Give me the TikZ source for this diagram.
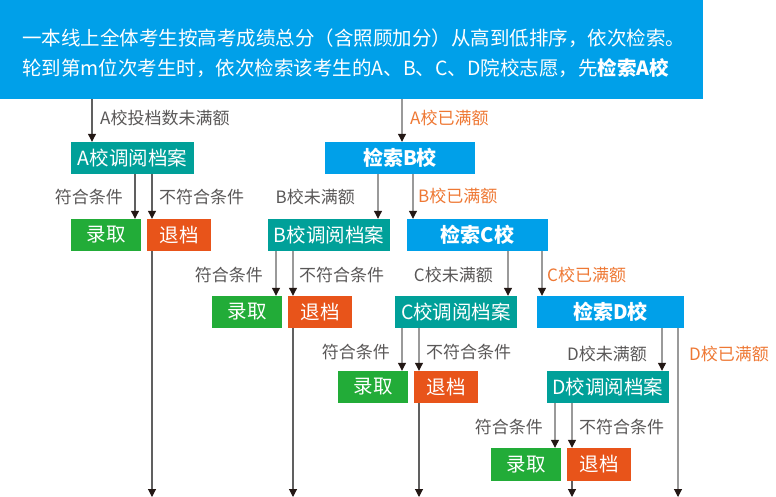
\documentclass[tikz,border=0pt]{standalone}
\usepackage{fontspec}
\setmainfont{Noto Sans CJK SC}
\usetikzlibrary{arrows.meta}
\definecolor{hblue}{HTML}{00A0E9}
\definecolor{cteal}{HTML}{00A099}
\definecolor{cgreen}{HTML}{22AC38}
\definecolor{corange}{HTML}{E8541A}
\definecolor{otext}{HTML}{EE7834}
\definecolor{cgray}{HTML}{595757}
\definecolor{lgray}{HTML}{9A9A9A}
\definecolor{dgray}{HTML}{606060}
\definecolor{tipc}{HTML}{231815}
\tikzset{
 box/.style={rectangle, inner sep=0pt, minimum height=32pt, text=white, font=\fontsize{19.5}{20}\selectfont},
 tealbox/.style={box, fill=cteal},
 bluebox/.style={box, fill=hblue, font=\fontsize{20}{20}\selectfont\bfseries},
 yesbox/.style={box, fill=cgreen, minimum width=70pt},
 nobox/.style={box, fill=corange, minimum width=64pt},
 lab/.style={inner sep=0pt, text=cgray, font=\fontsize{17}{17}\selectfont},
 olab/.style={lab, text=otext},
 conn/.style={draw=lgray, line width=1.1pt, -{Triangle[width=8pt,length=8pt,color=tipc]}},
 dconn/.style={conn, draw=dgray},
 htext/.style={inner sep=0pt, anchor=base west, text=white, font=\fontsize{19.5}{20}\selectfont},
}
\begin{document}
\begin{tikzpicture}[x=1pt,y=-1pt]
\useasboundingbox (0,0) rectangle (776,497);
% header
\node[fill=hblue, minimum width=703pt, minimum height=99pt, inner sep=0pt, anchor=north west] (head) at (0,0) {};
\node[htext] (h1) at (22,45.5) {一本线上全体考生按高考成绩总分（含照顾加分）从高到低排序，依次检索。};
\node[htext] (h2) at (22,75.5) {轮到第m位次考生时，依次检索该考生的A、B、C、D院校志愿，先\textbf{检索A校}};
% boxes
\node[tealbox, minimum width=123pt] (Ad) at (132.5,158) {A校调阅档案};
\node[bluebox, minimum width=150pt] (Bs) at (400,158) {检索B校};
\node[yesbox] (Ay) at (106,235) {录取};
\node[nobox] (An) at (179,235) {退档};
\node[tealbox, minimum width=122pt] (Bd) at (329,235) {B校调阅档案};
\node[bluebox, minimum width=141pt] (Cs) at (477.5,235) {检索C校};
\node[yesbox] (By) at (247,312) {录取};
\node[nobox] (Bn) at (320,312) {退档};
\node[tealbox, minimum width=122pt] (Cd) at (456,312) {C校调阅档案};
\node[bluebox, minimum width=147pt] (Ds) at (610.5,312) {检索D校};
\node[yesbox] (Cy) at (373,387) {录取};
\node[nobox] (Cn) at (446,387) {退档};
\node[tealbox, minimum width=122pt] (Dd) at (608,387) {D校调阅档案};
\node[yesbox, minimum height=33pt] (Dy) at (526,464.5) {录取};
\node[nobox, minimum height=33pt] (Dn) at (599,464.5) {退档};
% bottom end points
\coordinate (e1) at (152,497);
\coordinate (e2) at (293,497);
\coordinate (e3) at (419,497);
\coordinate (e4) at (572,497);
\coordinate (e5) at (678,497);
% connectors
\draw[dconn] (head.south -| 92,0) -- (Ad.north -| 92,0);
\draw[conn] (head.south -| 402,0) -- (Bs.north -| 402,0);
\draw[dconn] (Ad.south -| 135,0) -- (Ay.north -| 135,0);
\draw[dconn] (Ad.south -| 152,0) -- (An.north -| 152,0);
\draw[conn] (Bs.south -| 378,0) -- (Bd.north -| 378,0);
\draw[conn] (Bs.south -| 413,0) -- (Cs.north -| 413,0);
\draw[dconn] (An.south -| e1) -- (e1);
\draw[conn] (Bd.south -| 276,0) -- (By.north -| 276,0);
\draw[conn] (Bd.south -| 293,0) -- (Bn.north -| 293,0);
\draw[conn] (Cs.south -| 508,0) -- (Cd.north -| 508,0);
\draw[conn] (Cs.south -| 542,0) -- (Ds.north -| 542,0);
\draw[dconn] (Bn.south -| e2) -- (e2);
\draw[conn] (Cd.south -| 402,0) -- (Cy.north -| 402,0);
\draw[conn] (Cd.south -| 419,0) -- (Cn.north -| 419,0);
\draw[conn] (Ds.south -| 662,0) -- (Dd.north -| 662,0);
\draw[conn] (Ds.south -| e5) -- (e5);
\draw[dconn] (Cn.south -| e3) -- (e3);
\draw[conn] (Dd.south -| 555,0) -- (Dy.north -| 555,0);
\draw[conn] (Dd.south -| 572,0) -- (Dn.north -| 572,0);
\draw[dconn] (Dn.south -| e4) -- (e4);
% labels
\node[lab, anchor=west] (l1) at (100,118) {A校投档数未满额};
\node[olab, anchor=west] (l2) at (410,118) {A校已满额};
\node[lab, anchor=east] (l3) at (123,197) {符合条件};
\node[lab, anchor=west] (l4) at (159,197) {不符合条件};
\node[lab, anchor=east] (l5) at (355,197) {B校未满额};
\node[olab, anchor=west] (l6) at (418,196) {B校已满额};
\node[lab, anchor=east] (l7) at (263,275) {符合条件};
\node[lab, anchor=west] (l8) at (299,275) {不符合条件};
\node[lab, anchor=east] (l9) at (493,275) {C校未满额};
\node[olab, anchor=west] (l10) at (547,275) {C校已满额};
\node[lab, anchor=east] (l11) at (390,352) {符合条件};
\node[lab, anchor=west] (l12) at (426,352) {不符合条件};
\node[lab, anchor=east] (l13) at (647,354) {D校未满额};
\node[olab, anchor=west] (l14) at (689,354) {D校已满额};
\node[lab, anchor=east] (l15) at (543,427) {符合条件};
\node[lab, anchor=west] (l16) at (579,427) {不符合条件};
\end{tikzpicture}
\end{document}
